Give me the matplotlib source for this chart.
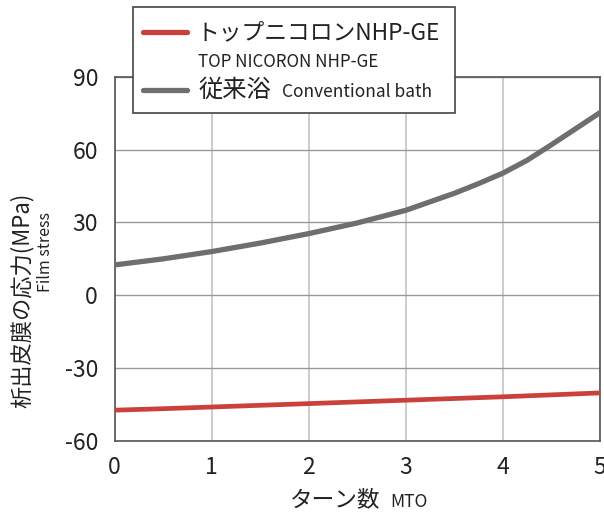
import matplotlib
matplotlib.use("Agg")
import matplotlib.pyplot as plt
from matplotlib.lines import Line2D
from matplotlib.patches import Rectangle

plt.rcParams['font.family'] = ['Noto Sans CJK JP', 'DejaVu Sans']
plt.rcParams['axes.unicode_minus'] = False

# data
turns = [0, 0.5, 1, 1.5, 2, 2.5, 3, 3.5, 3.75, 4, 4.25, 4.5, 4.75, 5]
conventional = [12.5, 15.0, 18.0, 21.5, 25.4, 29.8, 35.0, 42.0, 46.0, 50.3,
                55.6, 62.0, 68.6, 75.2]
nicoron = [-47.3, -46.7, -46.0, -45.3, -44.6, -43.9, -43.2, -42.5, -42.15, -41.8,
           -41.4, -41.0, -40.6, -40.2]
xticks = [0, 1, 2, 3, 4, 5]
yticks = [-60, -30, 0, 30, 60, 90]

red = '#c9413a'
grey = '#6d6e71'

W, H = 604, 512
fig = plt.figure(figsize=(W / 100, H / 100), dpi=100)
ax = fig.add_axes([114.7 / W, 1 - 441 / H, (600 - 114.7) / W, (441 - 76.7) / H])

ax.plot(turns, nicoron, color=red, lw=3.4, solid_capstyle='round', zorder=3)
ax.plot(turns, conventional, color=grey, lw=3.8, solid_capstyle='round', zorder=3)

ax.set_xlim(0, 5)
ax.set_ylim(-60, 90)
ax.set_xticks(xticks)
ax.set_yticks(yticks)
ax.tick_params(length=0, labelsize=16.5, colors='#222222')
ax.tick_params(axis='x', pad=11)
ax.tick_params(axis='y', pad=12)
ax.xaxis.grid(True, color='#c4c4c4', lw=1.2)
ax.yaxis.grid(True, color='#999999', lw=1.0)
ax.set_axisbelow(True)
for s in ax.spines.values():
    s.set_color('#555555')
    s.set_linewidth(1.2)


def px(x, y):
    return x / W, 1 - y / H


# axis labels
fig.text(*px(22, 300), '析出皮膜の応力(MPa)', rotation=90, ha='center', va='center',
         fontsize=16, color='#222222')
fig.text(*px(46, 252), 'Film stress', rotation=90, ha='center', va='center',
         fontsize=11.5, color='#222222')
fig.text(*px(380, 500), 'ターン数', ha='right', va='center', fontsize=16.3, color='#222222')
fig.text(*px(390, 502), 'MTO', ha='left', va='center', fontsize=12.5, color='#222222')

# legend drawn by hand (two-line labels with mixed sizes)
x0, y0 = px(133, 113)
x1, y1 = px(455, 7)
fig.patches.append(Rectangle((x0, y0), x1 - x0, y1 - y0, transform=fig.transFigure,
                             facecolor='white', edgecolor='#444444', lw=1.2, zorder=5))
for col, yy in [(red, 32), (grey, 90)]:
    a, b = px(143, yy)
    c, _ = px(187, yy)
    fig.lines.append(Line2D([a, c], [b, b], transform=fig.transFigure, color=col,
                            lw=3.8, solid_capstyle='round', zorder=6))
fig.text(*px(197, 33), 'トップニコロンNHP-GE', ha='left', va='center', fontsize=16.4,
         color='#222222', zorder=6)
fig.text(*px(198, 62), 'TOP NICORON NHP-GE', ha='left', va='center', fontsize=12.2,
         color='#222222', zorder=6)
fig.text(*px(199, 90), '従来浴', ha='left', va='center', fontsize=17.5,
         color='#222222', zorder=6)
fig.text(*px(282, 92), 'Conventional bath', ha='left', va='center', fontsize=12.5,
         color='#222222', zorder=6)

fig.savefig('out.png', dpi=100)
